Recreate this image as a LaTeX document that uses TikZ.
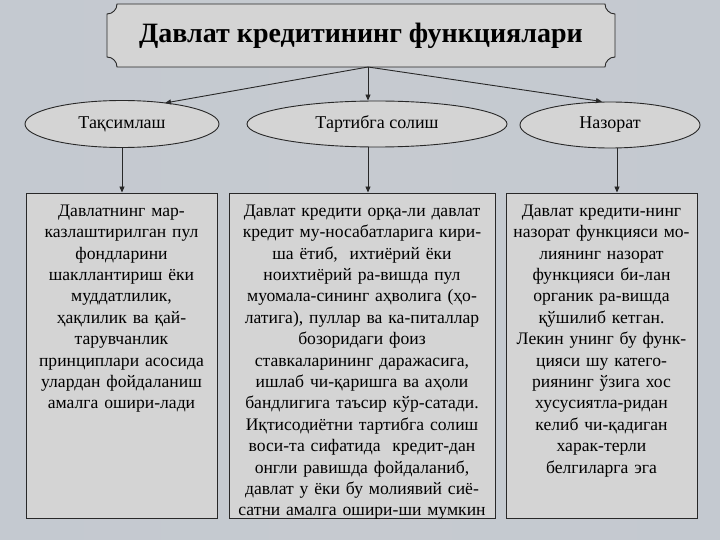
\documentclass[tikz,border=0pt]{standalone}
\usepackage{fontspec}
\setmainfont{Liberation Serif}
\usetikzlibrary{shapes.geometric,arrows.meta,calc}
\definecolor{bgedge}{RGB}{146,178,206}
\definecolor{bgmid}{RGB}{198,202,208}
\definecolor{boxfill}{RGB}{212,212,212}
\definecolor{linec}{RGB}{40,40,40}
\tikzset{
  conn/.style={draw=linec, line width=0.9pt, -{Triangle[length=6pt,width=5pt]}},
  oval/.style={ellipse, draw=linec, line width=0.9pt, fill=boxfill, inner sep=0pt, font=\fontsize{18}{21}\selectfont},
  panel/.style={rectangle, draw=linec, line width=0.9pt, fill=boxfill, inner sep=0pt},
  ptext/.style={anchor=north, inner sep=0pt, align=center, font=\fontsize{17.6}{21.4}\selectfont}
}
\pgfdeclarehorizontalshading{bgshade}{720bp}{color(0bp)=(bgedge); color(160bp)=(bgmid!70!bgedge); color(360bp)=(bgmid); color(560bp)=(bgmid!70!bgedge); color(720bp)=(bgedge)}
\begin{document}
\begin{tikzpicture}[x=1pt,y=-1pt]
\useasboundingbox (0,0) rectangle (720,540);
\shade[shading=bgshade] (0,0) rectangle (720,540);
% title plaque
\path[draw=linec, line width=0.9pt, fill=boxfill]
  (117,4) -- (605,4) arc[start angle=180,end angle=90,radius=10]
  -- (615,57) arc[start angle=270,end angle=180,radius=10]
  -- (117,67) arc[start angle=360,end angle=270,radius=10]
  -- (107,14) arc[start angle=90,end angle=0,radius=10] -- cycle;
\node (title) at (361,36) {\fontsize{28}{32}\selectfont\bfseries Давлат кредитининг функциялари};
\coordinate (hub) at (368,67);
% ellipses
\node[oval, minimum width=194pt, minimum height=47pt] (e1) at (122,124) {Тақсимлаш};
\node[oval, minimum width=260pt, minimum height=46pt] (e2) at (377,124) {Тартибга солиш};
\node[oval, minimum width=180pt, minimum height=46pt] (e3) at (610,125) {Назорат};
% boxes
\node[panel, minimum width=191pt, minimum height=325pt] (b1) at (121.5,355.5) {};
\node[panel, minimum width=266pt, minimum height=325pt] (b2) at (362,355.5) {};
\node[panel, minimum width=191pt, minimum height=325pt] (b3) at (601.5,355.5) {};
\node[ptext, text width=191pt] (t1) at (121.5,204.5) {Давлатнинг мар-\\казлаштирилган пул\\фондларини\\шакллантириш ёки\\муддатлилик,\\ҳақлилик ва қай-\\тарувчанлик\\принциплари асосида\\улардан фойдаланиш\\амалга ошири-лади};
\node[ptext, text width=266pt] (t2) at (362,204.5) {Давлат кредити орқа-ли давлат\\кредит му-носабатларига кири-\\ша ётиб,\ \ ихтиёрий ёки\\ноихтиёрий ра-вишда пул\\муомала-сининг аҳволига (ҳо-\\латига), пуллар ва ка-питаллар\\бозоридаги фоиз\\ставкаларининг даражасига,\\ишлаб чи-қаришга ва аҳоли\\бандлигига таъсир кўр-сатади.\\Иқтисодиётни тартибга солиш\\воси-та сифатида\ \ кредит-дан\\онгли равишда фойдаланиб,\\давлат у ёки бу молиявий сиё-\\сатни амалга ошири-ши мумкин};
\node[ptext, text width=191pt] (t3) at (601.5,204.5) {Давлат кредити-нинг\\назорат функцияси мо-\\лиянинг назорат\\функцияси би-лан\\органик ра-вишда\\қўшилиб кетган.\\Лекин унинг бу функ-\\цияси шу катего-\\риянинг ўзига хос\\хусусиятла-ридан\\келиб чи-қадиган\\харак-терли\\белгиларга эга};
% connectors
\draw[conn] (hub) -- ($(e1.center)+(43,-21)$);
\draw[conn] (hub) -- (hub |- e2.north);
\draw[conn] (hub) -- ($(e3.north)+(-8,0)$);
\draw[conn] (e1.south) -- (e1.south |- b1.north);
\draw[conn] (hub |- e2.south) -- (hub |- b2.north);
\coordinate (r3) at ($(e3.south)+(7,0)$);
\draw[conn] (r3) -- (r3 |- b3.north);
\end{tikzpicture}
\end{document}
